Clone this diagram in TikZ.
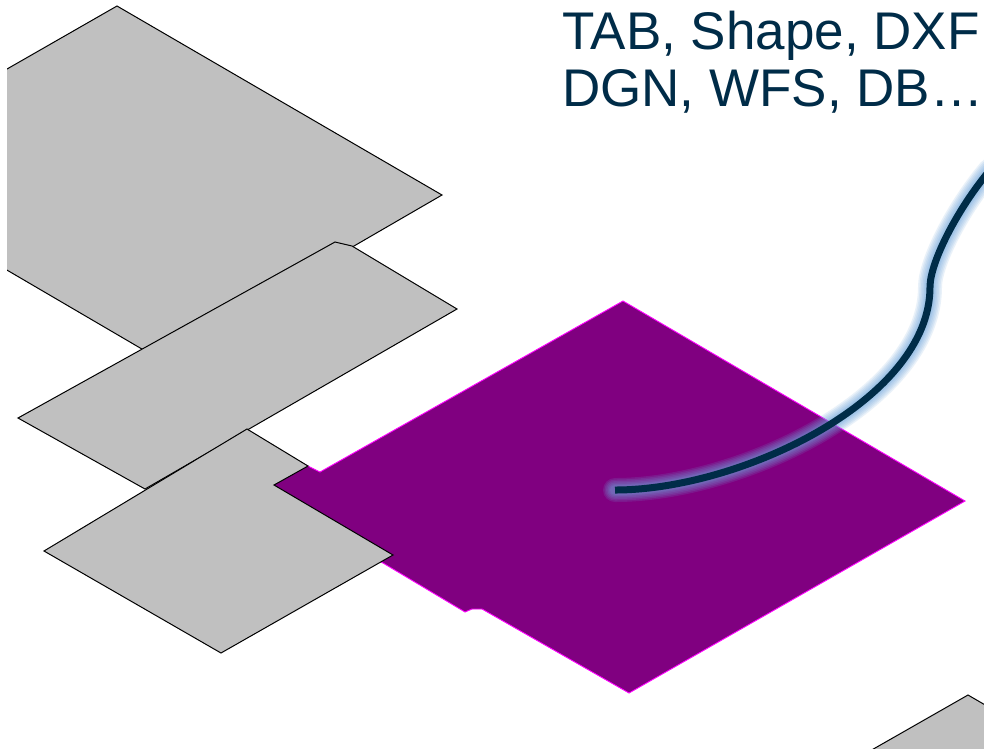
\documentclass[tikz,border=0pt]{standalone}
\usepackage{fontspec}
\setmainfont{Liberation Sans}
\definecolor{shapegray}{RGB}{192,192,192}
\definecolor{areapurple}{RGB}{128,0,128}
\definecolor{edgemagenta}{RGB}{255,0,255}
\definecolor{navy}{RGB}{0,44,72}
\definecolor{glowblue}{RGB}{110,165,220}
\begin{document}
\begin{tikzpicture}[x=1pt,y=-1pt,
  grayshape/.style={fill=shapegray, draw=black, line width=1pt, line join=miter},
  purpleshape/.style={fill=areapurple, draw=edgemagenta, line width=0.9pt},
  captext/.style={font=\fontsize{53}{57}\selectfont, text=navy, inner sep=0pt, anchor=base west},
  glowline/.style={draw=glowblue, line cap=round, draw opacity=0.15},
  wire/.style={draw=navy, line width=7pt, line cap=butt}]
\useasboundingbox (0,0) rectangle (984,748);
\fill[white] (0,0) rectangle (984,748);
\begin{scope}
\clip (7,0) rectangle (984,748);
% grey area 1 (top left)
\path[grayshape] (-20,84.5) -- (117,6) -- (442,195) -- (159,359) -- (-20,254.3);
% grey area 2
\path[grayshape] (18,418) -- (335,242) -- (352,246) -- (457,309) -- (145,489) -- cycle;
% purple area
\path[purpleshape] (623,301) -- (965,501) -- (629,693) -- (482,609) -- (472,609) -- (465,612)
   -- (383,563) -- (260,500) -- (255,480) -- (300,462) -- (310,467) -- (320,472) -- cycle;
% grey area 3 (with notch)
\path[grayshape] (247,429) -- (308,466) -- (274,485) -- (393,555) -- (221,653) -- (44,551) -- cycle;
% grey area 4 (bottom right)
\path[grayshape] (968,695) -- (1030,731) -- (1000,800) -- (784,800) -- cycle;
\end{scope}
% connector with glow
\coordinate (c0) at (615,490);
\coordinate (c1) at (930,287);
\coordinate (c2) at (990,170);
\begin{scope}
\clip (0,0) rectangle (984,748);
\foreach \w in {24,21,18,15,12,10}{
  \path[glowline, line width=\w pt] (c0) .. controls (740,490) and (930,400) .. (c1)
     .. controls (930,262) and (958,208) .. (c2);
}
\path[wire] (c0) .. controls (740,490) and (930,400) .. (c1)
     .. controls (930,262) and (958,208) .. (c2);
\end{scope}
% text
\node[captext] (t1) at (562,49) {TAB, Shape, DXF};
\node[captext] (t2) at (562,106) {DGN, WFS, DB…};
\end{tikzpicture}
\end{document}
